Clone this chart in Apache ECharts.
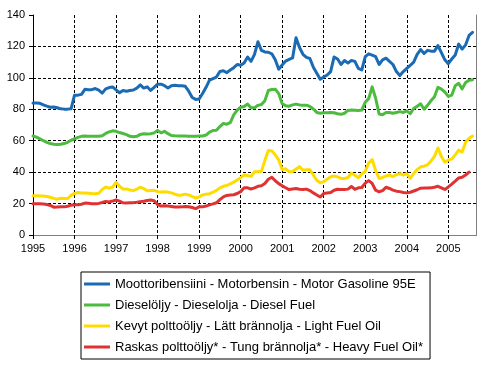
<!DOCTYPE html>
<html><head><meta charset="utf-8">
<script src="https://cdn.jsdelivr.net/npm/echarts@6/dist/echarts.min.js"></script>
<style>html,body{margin:0;padding:0;background:#fff}#c{width:497px;height:366px}</style>
</head><body><div id="c"></div>
<script>
const startYear = 1995;
const axisMonths = 129; // Jan 1995 .. Sep 2005 (end of axis)
const yTicks = { min: 0, max: 140, interval: 20 };

const seriesNames = [
  'Moottoribensiini - Motorbensin - Motor Gasoline 95E',
  'Dieselöljy - Dieselolja - Diesel Fuel',
  'Kevyt polttoöljy - Lätt brännolja - Light Fuel Oil',
  'Raskas polttoöljy* - Tung brännolja* - Heavy Fuel Oil*'
];
const seriesColors = ['#1a6bb4', '#4dbb3f', '#ffdc00', '#e03232'];

const gasoline = [
  84, 84, 83.8, 82.8, 82, 81.3, 81.5, 81, 80.3, 80.1, 80.1, 80.3,
  89, 89, 89.5, 92.7, 92.5, 92.5, 93.2, 92.2, 90.3, 93, 93.8, 94.2,
  92.3, 90.5, 92, 91.5, 92, 92.3, 93.5, 95.5, 93.5, 94.3, 92, 94,
  96, 96, 95, 93.5, 95, 95.3, 95, 95, 94.6, 91.5, 87.5, 86.3,
  86.5, 90, 94, 98.5, 99.5, 100.5, 104, 104.5, 103.3, 105, 106.5, 108.5,
  108, 109.5, 113.3, 110.5, 115, 123, 117.5, 116.5, 116.3, 115.3, 111.5, 105.5,
  108.2, 110.7, 111.8, 112.7, 125.5, 119.3, 115, 113, 112.3, 106.8, 103, 99.1,
  100.5, 101.8, 104, 113.3, 112, 108.5, 111, 109.5, 111, 110.5, 106, 105,
  113.5, 115.3, 114.5, 113.5, 108.5, 111.5, 112.5, 110.5, 108.5, 104, 101.5, 104,
  106, 108, 110, 115, 118, 115.5, 117.5, 117, 117, 120.5, 116, 111.5,
  109, 112, 114.5, 121.5, 118.3, 121, 127, 129
];
const diesel = [
  63, 62.3, 61.2, 60, 58.9, 58.2, 57.8, 57.6, 57.8, 58.2, 59, 60.3,
  61.2, 62.1, 62.8, 63, 62.8, 62.9, 62.9, 62.8, 63.2, 64.6, 65.6, 66.3,
  66, 65.2, 64.6, 63.9, 62.8, 62.5, 62.8, 64, 64.4, 64.3, 64.4, 65,
  66.6, 65, 66, 64.5, 63.3, 63.1, 63, 63, 63, 62.8, 62.8, 62.8,
  63, 63, 63.6, 65.5, 66.5, 66.6, 69, 71, 70.5, 71.5, 76.5, 79.5,
  81.3, 81.8, 83.3, 81, 81, 82.5, 83, 85.5, 92, 92.6, 92.8, 90,
  83.5, 82.3, 82, 82.8, 83.3, 82.8, 82.6, 82.6, 81.8, 80.2, 78, 77.5,
  77.8, 77.8, 78, 77.8, 77.2, 76.8, 77.5, 79.3, 79.5, 79.4, 79.3, 79.5,
  84.5, 86.8, 94.3, 87, 77, 76.5, 78, 78, 77.5, 78, 78.5, 78,
  79, 77.2, 80.5, 82, 83.5, 80, 82.5, 85.5, 88, 94, 92.8, 91,
  88.2, 89, 95, 96.5, 93, 97, 98.5, 98.8
];
const lightFuel = [
  25, 25, 24.8, 24.8, 24.5, 24, 23.3, 22.8, 23.4, 23.3, 23.2, 25.2,
  26.5, 27, 26.8, 26.8, 26.6, 26.4, 26.3, 26.6, 29, 30.6, 29.8, 30.5,
  33.5, 31, 29.3, 29.3, 28.7, 28.3, 29.2, 30.4, 29.5, 28.2, 28.3, 28.4,
  27.6, 27.3, 27.5, 27.3, 26.8, 26, 25.3, 25.5, 26, 25.5, 24.5, 23.5,
  24.3, 25.5, 26, 26.3, 27.2, 28.4, 30, 31, 31.6, 32.5, 33.6, 35,
  36.5, 38.2, 37.8, 37.3, 40.3, 40.3, 40.5, 47.5, 53.8, 53.5, 51, 47.8,
  41.7, 42.1, 40.3, 40.4, 42, 43.5, 41.2, 41.5, 41.5, 38.2, 34.8, 33.2,
  34, 35.5, 37.1, 37.5, 37, 36, 36, 36.6, 39.3, 38, 36.5, 38.8,
  40.5, 45.9, 48, 41, 36, 36.6, 37.6, 38.1, 37.2, 38.4, 39, 38.2,
  39, 36, 39.2, 41.6, 43.4, 43.8, 44.7, 47.1, 50, 55.4, 50, 46.3,
  47.8, 48.3, 51, 54, 52.8, 59, 61.5, 63
];
const heavyFuel = [
  19.9, 19.9, 19.9, 19.7, 19.4, 18.8, 17.7, 17.8, 17.9, 17.9, 18.3, 19,
  19.3, 19.3, 19.6, 20.3, 20.2, 19.9, 19.9, 20.1, 20.7, 21.4, 21, 21.6,
  22.3, 21.5, 20.5, 20.4, 20.5, 20.6, 20.8, 21.2, 21.5, 22, 22.3, 21.8,
  19.4, 18.4, 18.6, 18.4, 18.2, 17.8, 17.8, 17.9, 18.2, 18, 17.5, 16.8,
  17.9, 17.9, 18.4, 19.2, 19.8, 20.5, 22.5, 24.3, 25.2, 25.4, 25.6, 26.4,
  27.6, 30, 30, 29.3, 30, 31, 31.4, 32.8, 35.5, 36.8, 34.5, 32.7,
  31.3, 30.1, 28.9, 29.3, 29.6, 29.1, 28.9, 29.2, 28.3, 26.8, 25.5, 24.2,
  26.4, 26.7, 27, 28.5, 29.1, 28.9, 28.9, 29.2, 30.9, 29.1, 30, 30.2,
  33, 34.6, 32.8, 28.5, 27.5, 28.2, 30.4, 29.6, 28.6, 27.9, 27.6, 27.1,
  26.8, 27.2, 28, 28.8, 29.8, 29.9, 29.9, 30, 30.4, 31, 30, 29,
  30.6, 32.4, 34.3, 36.3, 36.8, 38.2, 40
];

const months = [];
for (let i = 0; i < axisMonths; i++) {
  const y = startYear + Math.floor(i / 12);
  const m = (i % 12) + 1;
  months.push(y + '-' + (m < 10 ? '0' + m : m));
}
const isYearStart = (idx) => idx % 12 === 0;
const font = "'Liberation Sans', Arial, sans-serif";
const dash = { color: '#000', type: [3, 2], width: 1 };

const allData = [gasoline, diesel, lightFuel, heavyFuel];
const chart = echarts.init(document.getElementById('c'), null, { renderer: 'canvas' });
chart.setOption({
  animation: false,
  backgroundColor: '#ffffff',
  grid: { left: 33, right: 21, top: 15, bottom: 131, containLabel: false },
  legend: {
    orient: 'vertical', left: 81, top: 272,
    padding: [5, 7, 5, 3],
    borderColor: '#000', borderWidth: 1,
    itemWidth: 26, itemHeight: 3, itemGap: 7, icon: 'rect',
    textStyle: { fontFamily: font, fontSize: 13, color: '#000', lineHeight: 14 },
    data: seriesNames
  },
  xAxis: [{
    type: 'category', data: months, boundaryGap: false,
    axisLine: { show: true, lineStyle: { color: '#000', width: 1 } },
    axisTick: { show: true, length: 4, interval: (i) => isYearStart(i), lineStyle: { color: '#000' } },
    axisLabel: { interval: (i) => isYearStart(i), formatter: (v) => v.slice(0, 4), color: '#000', fontFamily: font, fontSize: 11, margin: 8 },
    splitLine: { show: true, interval: (i) => isYearStart(i) && i > 0, lineStyle: dash }
  }, {
    type: 'category', data: months, boundaryGap: false, position: 'top',
    axisLine: { show: true, lineStyle: { color: '#808080', width: 1 } },
    axisTick: { show: false }, axisLabel: { show: false }, splitLine: { show: false }
  }],
  yAxis: [{
    type: 'value', min: yTicks.min, max: yTicks.max, interval: yTicks.interval,
    axisLine: { show: true, lineStyle: { color: '#000', width: 1 } },
    axisTick: { show: true, length: 4, lineStyle: { color: '#000' } },
    axisLabel: { color: '#000', fontFamily: font, fontSize: 11, margin: 8 },
    splitLine: { show: true, showMaxLine: false, lineStyle: dash }
  }, {
    type: 'value', min: yTicks.min, max: yTicks.max, interval: yTicks.interval, position: 'right',
    axisLine: { show: true, lineStyle: { color: '#808080', width: 1 } },
    axisTick: { show: false }, axisLabel: { show: false }, splitLine: { show: false }
  }],
  series: seriesNames.map((name, k) => ({
    name, type: 'line', data: allData[k], showSymbol: false, symbol: 'none',
    color: seriesColors[k],
    lineStyle: { width: 3, color: seriesColors[k], join: 'round', cap: 'round' },
    z: 3 + (3 - k)
  }))
});
</script></body></html>
